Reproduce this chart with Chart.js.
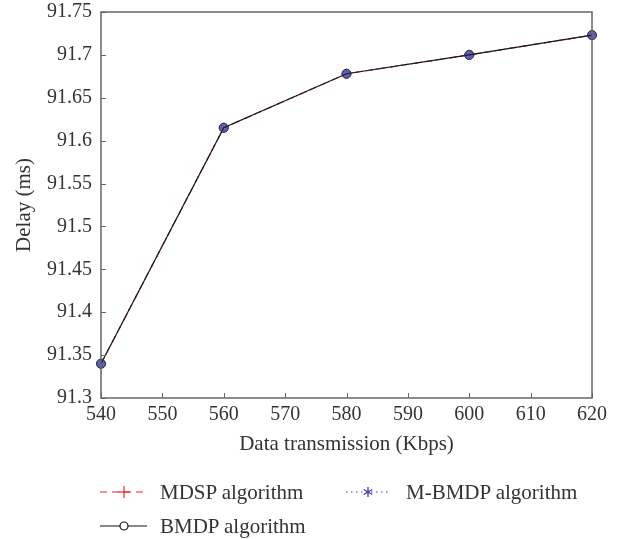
<!DOCTYPE html>
<html>
<head>
<meta charset="utf-8">
<script src="https://cdn.jsdelivr.net/npm/chart.js@4.4.1/dist/chart.umd.min.js"></script>
<style>
  html, body { margin: 0; padding: 0; background: #fff; }
  #wrap { position: relative; width: 625px; height: 539px; }
  #legend { position: absolute; left: 0; top: 0; width: 625px; height: 539px; pointer-events: none;
            font-family: "Liberation Serif", "DejaVu Serif", serif; font-size: 21px; color: #333; }
  .item { position: absolute; display: flex; align-items: center; height: 24px; }
  .item svg { margin-right: 13px; }
</style>
</head>
<body>
<div id="wrap">
  <canvas id="chart" width="625" height="539"></canvas>
  <div id="legend">
    <div class="item" style="left:100px; top:480px;">
      <svg width="47" height="24"><line x1="0" y1="12" x2="47" y2="12" stroke="#e8242a" stroke-width="1.2" stroke-dasharray="7,5"/>
        <line x1="18" y1="12" x2="30" y2="12" stroke="#e8242a" stroke-width="1.2"/><line x1="24" y1="6" x2="24" y2="18" stroke="#e8242a" stroke-width="1.2"/></svg>
      <span>MDSP algorithm</span>
    </div>
    <div class="item" style="left:346px; top:480px;">
      <svg width="42" height="24"><line x1="0" y1="12" x2="42" y2="12" stroke="#3c3ca8" stroke-width="1.2" stroke-dasharray="1.5,3.5"/>
        <g stroke="#3c3ca8" stroke-width="1.3"><line x1="22" y1="7" x2="22" y2="17"/><line x1="17.7" y1="9.5" x2="26.3" y2="14.5"/><line x1="17.7" y1="14.5" x2="26.3" y2="9.5"/></g></svg>
      <span style="margin-left:5px">M-BMDP algorithm</span>
    </div>
    <div class="item" style="left:100px; top:514px;">
      <svg width="47" height="24"><line x1="0" y1="12" x2="47" y2="12" stroke="#111" stroke-width="1.2"/>
        <circle cx="24" cy="12" r="4" fill="#fff" stroke="#111" stroke-width="1.2"/></svg>
      <span>BMDP algorithm</span>
    </div>
  </div>
</div>
<script>
const rates = [540, 560, 580, 600, 620];
const mdspDelay = [91.34, 91.615, 91.678, 91.70, 91.723];
const mbmdpDelay = [91.34, 91.615, 91.678, 91.70, 91.723];
const bmdpDelay = [91.34, 91.615, 91.678, 91.70, 91.723];
const xTicks = [540, 550, 560, 570, 580, 590, 600, 610, 620];
const yTicks = [91.3, 91.35, 91.4, 91.45, 91.5, 91.55, 91.6, 91.65, 91.7, 91.75];

const axisColor = "#666";
const textColor = "#333";
const serif = "'Liberation Serif', 'DejaVu Serif', serif";

// inward ticks + full box, MATLAB style
const boxTicks = {
  id: "boxTicks",
  afterDraw(chart) {
    const { ctx, chartArea: a, scales } = chart;
    ctx.save();
    ctx.strokeStyle = axisColor;
    ctx.lineWidth = 1.5;
    ctx.strokeRect(a.left, a.top, a.right - a.left, a.bottom - a.top);
    ctx.lineWidth = 1;
    ctx.beginPath();
    xTicks.forEach(v => {
      const px = Math.round(scales.x.getPixelForValue(v)) + 0.5;
      ctx.moveTo(px, a.bottom); ctx.lineTo(px, a.bottom - 5);
    });
    yTicks.forEach(v => {
      const py = Math.round(scales.y.getPixelForValue(v)) + 0.5;
      ctx.moveTo(a.left, py); ctx.lineTo(a.left + 5, py);
    });
    ctx.stroke();
    ctx.restore();
  }
};

const toPts = arr => rates.map((r, i) => ({ x: r, y: arr[i] }));

new Chart(document.getElementById("chart"), {
  type: "line",
  data: {
    datasets: [
      {
        label: "BMDP algorithm",
        data: toPts(bmdpDelay),
        borderColor: "#1a1a1a",
        borderWidth: 1.2,
        pointStyle: "circle",
        pointRadius: 4.6,
        pointBorderColor: "#2a2a4a",
        pointBorderWidth: 1,
        pointBackgroundColor: "rgba(0,0,0,0)",
        order: 1
      },
      {
        label: "M-BMDP algorithm",
        data: toPts(mbmdpDelay),
        borderColor: "#3c3ca8",
        borderWidth: 1.2,
        borderDash: [1.5, 3.5],
        pointStyle: "circle",
        pointRadius: 4.2,
        pointBorderColor: "#4f4fa8",
        pointBorderWidth: 1,
        pointBackgroundColor: "#5f5fb4",
        order: 2
      },
      {
        label: "MDSP algorithm",
        data: toPts(mdspDelay),
        borderColor: "#e8242a",
        borderWidth: 1.2,
        borderDash: [7, 5],
        pointStyle: "cross",
        pointRadius: 5,
        pointBorderColor: "#e8242a",
        pointBorderWidth: 1,
        order: 3
      }
    ]
  },
  options: {
    responsive: false,
    animation: false,
    clip: false,
    layout: { padding: { left: 0, right: 33, top: 12, bottom: 79 } },
    plugins: { legend: { display: false }, tooltip: { enabled: false } },
    scales: {
      x: {
        type: "linear",
        min: 540, max: 620,
        afterBuildTicks: s => { s.ticks = xTicks.map(v => ({ value: v })); },
        afterFit: s => { s.height = 62; s.paddingLeft = 0; s.paddingRight = 0; },
        grid: { display: false, drawTicks: false },
        border: { display: false },
        ticks: { color: textColor, font: { family: serif, size: 20 }, padding: 5, maxRotation: 0 },
        title: { display: true, text: "Data transmission (Kbps)", color: textColor,
                 font: { family: serif, size: 21 }, padding: { top: 0, bottom: 3 } }
      },
      y: {
        type: "linear",
        min: 91.3, max: 91.75,
        afterBuildTicks: s => { s.ticks = yTicks.map(v => ({ value: v })); },
        afterFit: s => { s.width = 101; s.paddingTop = 0; s.paddingBottom = 0; },
        grid: { display: false, drawTicks: false },
        border: { display: false },
        ticks: { color: textColor, font: { family: serif, size: 20 }, padding: 9,
                 callback: v => String(+v.toFixed(2)) },
        title: { display: true, text: "Delay (ms)", color: textColor,
                 font: { family: serif, size: 21 }, padding: { top: 12, bottom: 0 } }
      }
    }
  },
  plugins: [boxTicks]
});
</script>
</body>
</html>
